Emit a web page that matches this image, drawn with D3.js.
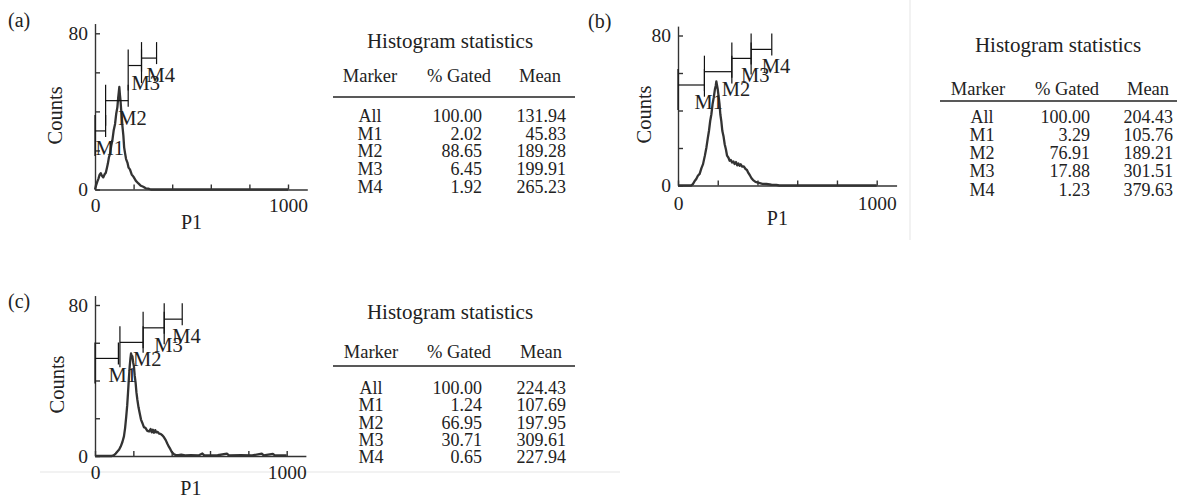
<!DOCTYPE html>
<html>
<head>
<meta charset="utf-8">
<script src="https://cdn.jsdelivr.net/npm/d3@7"></script>
<style>
  body { margin: 0; background: #fff; }
  svg { display: block; font-family: "Liberation Serif", "DejaVu Serif", serif; }
  .axis path, .axis line { stroke: #333; stroke-width: 1.4; }
  .axis text { font-family: "Liberation Serif", serif; font-size: 19.5px; fill: #222; }
</style>
</head>
<body>
<div id="chart"></div>
<script>
const W = 1177, H = 498;

// histogram curves, [P1, counts]
const histA = [[0,0],[6,2.2],[12,4],[18,5.6],[24,7.6],[30,8.4],[36,7],[43,6.2],[50,7.8],[56,8.6],[62,11.2],[67,13.4],[72,16.4],[78,18.4],[84,22.4],[90,25.2],[97,30.4],[104,33.6],[110,38.8],[116,42.2],[120,46.8],[123,49.6],[126,52.5],[129,48.6],[132,45.8],[135,41.6],[138,38.4],[142,32.6],[147,27.6],[151,21.6],[155,19],[161,15.6],[168,13.8],[174,11.2],[181,10.3],[190,7.7],[199,6.6],[212,4.4],[225,3.1],[238,1.9],[250,1.4],[263,0.6],[276,0.4],[290,0],[1000,0]];
const histB = [[0,0],[66,0],[75,0.7],[84,2.4],[92,3.5],[100,5.2],[109,6.2],[118,9.3],[126,11.4],[135,15.8],[143,20.3],[150,25.3],[156,29.2],[162,34.4],[168,38],[174,43.4],[180,47],[186,51.4],[190,53.2],[193,55.5],[196,53.6],[200,51.3],[205,47],[209,43.4],[213,38],[218,34.3],[223,29.2],[229,26.3],[235,22],[241,19.3],[247,15.9],[254,14.8],[260,13.2],[266,13.6],[272,12.3],[279,12.8],[285,11.5],[292,12.5],[298,10.7],[304,11.7],[310,10.5],[316,11.3],[322,10.1],[331,10.2],[340,8.8],[347,8.3],[354,6.7],[361,5.6],[370,3.9],[378,2.9],[390,1.9],[403,1.5],[425,0.9],[445,0.8],[470,0.4],[495,0.3],[510,0],[1000,0]];
const histC = [[0,0],[88,0],[99,0.5],[108,1.3],[117,2.4],[126,3.4],[134,5],[143,7.4],[151,10.4],[157,14.8],[163,21],[168,26.8],[172,33.2],[176,39.8],[181,47.5],[185,51.8],[188,54.3],[191,53.2],[195,52.8],[199,49.7],[203,47.5],[207,42.7],[212,38.6],[216,33.8],[221,29.8],[227,25.8],[233,22.8],[240,19.3],[247,17.5],[255,15.3],[264,14.8],[273,13.3],[282,13],[290,14.3],[296,12.5],[302,13.9],[308,12.3],[314,13.7],[320,12.5],[327,12.8],[334,11.9],[342,11.7],[351,11],[360,9.9],[369,8.4],[377,6.6],[386,4.8],[393,3.6],[400,2.2],[406,1.6],[412,0.9],[420,0.6],[435,0.4],[450,0.7],[470,0.3],[500,0.5],[540,0.3],[560,1.3],[570,0.3],[640,0.4],[688,1.3],[698,0.3],[760,0.4],[820,0.3],[870,1.2],[880,0.3],[928,1.1],[938,0.3],[1000,0.3]];

// markers, [start P1, end P1, level in counts]
const markerNames = ["M1", "M2", "M3", "M4"];
const markersA = [[0,55,30],[55,172,45.5],[172,241,63.5],[241,319,67.3]];
const markersB = [[0,133,53.6],[133,271,60.7],[271,368,67.8],[368,472,72.6]];
const markersC = [[0,122,51.7],[130,251,60.2],[251,361,67.9],[361,455,72.5]];

// statistics tables
const tableTitle = "Histogram statistics";
const tableHeads = ["Marker", "% Gated", "Mean"];
const rowNames = ["All", "M1", "M2", "M3", "M4"];
const gatedA = [100.00, 2.02, 88.65, 6.45, 1.92];
const meanA = [131.94, 45.83, 189.28, 199.91, 265.23];
const gatedB = [100.00, 3.29, 76.91, 17.88, 1.23];
const meanB = [204.43, 105.76, 189.21, 301.51, 379.63];
const gatedC = [100.00, 1.24, 66.95, 30.71, 0.65];
const meanC = [224.43, 107.69, 197.95, 309.61, 227.94];

const xTicks = [0, 200, 400, 600, 800, 1000];
const yTicks = [0, 20, 40, 60, 80];

const svg = d3.select("#chart").append("svg")
  .attr("width", W).attr("height", H);

// faint scan edges
svg.append("line").attr("x1", 910).attr("x2", 910).attr("y1", 0).attr("y2", 240)
  .attr("stroke", "#eeeeee").attr("stroke-width", 1.5);
svg.append("line").attr("x1", 40).attr("x2", 620).attr("y1", 472).attr("y2", 472)
  .attr("stroke", "#eeeeee").attr("stroke-width", 1.5);

const fmt = d3.format(".2f");

function drawHist(p) {
  const x = d3.scaleLinear().domain([0, 1100])
    .range([p.x0, p.x0 + 1.1 * p.px1000]);
  const y = d3.scaleLinear().domain([0, 80]).range([p.y0, p.y80]);
  const yAx = y.copy().domain([0, 85]).range([p.y0, y(85)]);
  const g = svg.append("g");

  g.append("text").attr("x", p.lab[0]).attr("y", p.lab[1])
    .attr("font-size", 20).attr("fill", "#222").text(p.name);

  g.append("g").attr("class", "axis")
    .attr("transform", `translate(0,${p.y0})`)
    .call(d3.axisBottom(x).tickValues(xTicks).tickSizeInner(-5).tickSizeOuter(0)
      .tickPadding(p.xPad).tickFormat(d => (d === 0 || d === 1000) ? d : ""));
  g.append("g").attr("class", "axis")
    .attr("transform", `translate(${p.x0},0)`)
    .call(d3.axisLeft(yAx).tickValues(yTicks).tickSizeInner(-5).tickSizeOuter(0)
      .tickPadding(7).tickFormat(d => (d === 0 || d === 80) ? d : ""));

  g.append("text")
    .attr("transform", `translate(${p.x0 - p.countsDx},${(y(0) + y(80)) / 2 + 4}) rotate(-90)`)
    .attr("text-anchor", "middle").attr("font-size", 20.5).attr("fill", "#222")
    .text("Counts");
  g.append("text").attr("x", x(500)).attr("y", p.y0 + 39)
    .attr("text-anchor", "middle").attr("font-size", 20).attr("fill", "#222")
    .text("P1");

  g.append("path").datum(p.hist)
    .attr("fill", "none").attr("stroke", "#333").attr("stroke-width", 2.3)
    .attr("stroke-linejoin", "round")
    .attr("d", d3.line().x(d => x(d[0])).y(d => y(d[1])));

  p.markers.forEach((m, i) => {
    const xs = x(m[0]), xe = x(m[1]), yl = y(m[2]);
    const mg = g.append("g").attr("stroke", "#111").attr("stroke-width", 1.2);
    mg.append("line").attr("x1", xs).attr("x2", xe).attr("y1", yl).attr("y2", yl);
    mg.append("line").attr("x1", xs).attr("x2", xs).attr("y1", yl - 16).attr("y2", yl + 25);
    mg.append("line").attr("x1", xe).attr("x2", xe).attr("y1", yl - 16).attr("y2", yl + 6);
    g.append("text").attr("x", xe - 10).attr("y", yl + 24)
      .attr("font-size", 20.5).attr("fill", "#222").text(markerNames[i]);
  });
}

function drawTable(t) {
  const g = svg.append("g").attr("fill", "#222");
  g.append("text").attr("x", t.titleX).attr("y", t.titleY)
    .attr("text-anchor", "middle").attr("font-size", 21).text(tableTitle);
  tableHeads.forEach((h, i) => {
    g.append("text").attr("x", t.headX[i]).attr("y", t.headY)
      .attr("text-anchor", "middle").attr("font-size", 18.5).text(h);
  });
  g.append("line").attr("x1", t.rule[0]).attr("x2", t.rule[1])
    .attr("y1", t.ruleY).attr("y2", t.ruleY)
    .attr("stroke", "#222").attr("stroke-width", 1.4);
  rowNames.forEach((r, i) => {
    const yy = t.rowY + i * t.rowStep;
    g.append("text").attr("x", t.colX[0]).attr("y", yy)
      .attr("text-anchor", "middle").attr("font-size", 18).text(r);
    g.append("text").attr("x", t.colX[1]).attr("y", yy)
      .attr("text-anchor", "end").attr("font-size", 18).text(fmt(t.gated[i]));
    g.append("text").attr("x", t.colX[2]).attr("y", yy)
      .attr("text-anchor", "end").attr("font-size", 18).text(fmt(t.mean[i]));
  });
}

drawHist({ name: "(a)", lab: [8, 27], x0: 95, px1000: 193, y0: 189.5, y80: 33.3, xPad: 9, countsDx: 33, hist: histA, markers: markersA });
drawHist({ name: "(b)", lab: [588, 28], x0: 678, px1000: 198.7, y0: 185.5, y80: 35.5, xPad: 11, countsDx: 27, hist: histB, markers: markersB });
drawHist({ name: "(c)", lab: [8, 308], x0: 95, px1000: 191.7, y0: 456, y80: 305, xPad: 9, countsDx: 31, hist: histC, markers: markersC });

drawTable({ titleX: 450, titleY: 48, headX: [370, 459, 540], headY: 82, rule: [333, 575], ruleY: 97,
  colX: [370, 482, 566], rowY: 122, rowStep: 17.7, gated: gatedA, mean: meanA });
drawTable({ titleX: 1058, titleY: 52, headX: [978, 1067, 1148], headY: 95, rule: [940, 1177], ruleY: 101,
  colX: [982, 1090, 1173], rowY: 122.5, rowStep: 18.3, gated: gatedB, mean: meanB });
drawTable({ titleX: 450, titleY: 319, headX: [371, 459, 541], headY: 358, rule: [333, 575], ruleY: 366,
  colX: [371, 482, 566], rowY: 394, rowStep: 17.3, gated: gatedC, mean: meanC });
</script>
</body>
</html>
